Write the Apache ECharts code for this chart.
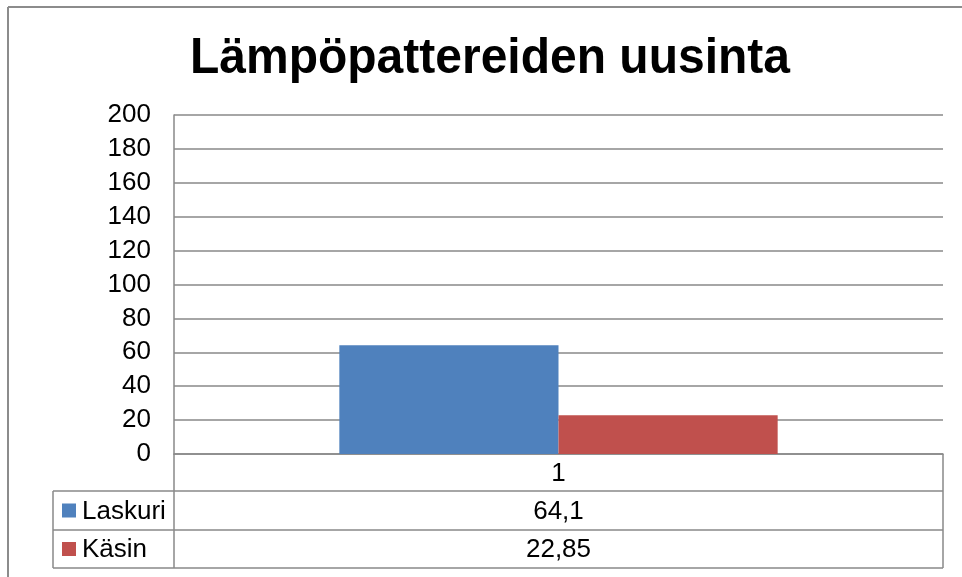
<!DOCTYPE html>
<html>
<head>
<meta charset="utf-8">
<script src="https://cdn.jsdelivr.net/npm/echarts@6/dist/echarts.min.js"></script>
<style>html,body{margin:0;padding:0;background:#fff}#c{width:962px;height:577px}</style>
</head>
<body>
<div id="c"></div>
<script>
const titleText = 'Lämpöpattereiden uusinta';
const categories = ['1'];
const seriesNames = ['Laskuri', 'Käsin'];
const laskuri = [64.1];
const kasin = [22.85];
const yTicks = [0, 20, 40, 60, 80, 100, 120, 140, 160, 180, 200];

const colors = ['#4F81BD', '#C0504D'];
const FONT = '"Liberation Sans", Arial, sans-serif';
const W = 962, H = 577;
const G = {left: 174, right: 19, top: 115, bottom: 123};
const plotL = G.left, plotR = W - G.right, plotB = H - G.bottom;
const tableL = 53;
const rowB = [plotB, 491, 530, 568];
const lineColor = '#898989';

const fmt = v => String(v).replace('.', ',');
const seriesData = [laskuri, kasin];

const graphics = [];
// outer chart border (top & left visible)
graphics.push({type:'line', shape:{x1:8, y1:7, x2:W+5, y2:7}, style:{stroke:'#8c8c8c', lineWidth:2}});
graphics.push({type:'line', shape:{x1:8, y1:7, x2:8, y2:H+5}, style:{stroke:'#8c8c8c', lineWidth:2}});
// title
graphics.push({type:'text', x:490, y:59, scaleY:1.06, style:{text:titleText, font:'bold 48px ' + FONT, fill:'#000', textAlign:'center', textVerticalAlign:'middle'}});

// table lines
graphics.push({type:'line', shape:{x1:plotL, y1:plotB, x2:plotL, y2:rowB[3]}, style:{stroke:lineColor, lineWidth:1.5}});
graphics.push({type:'line', shape:{x1:plotR, y1:plotB, x2:plotR, y2:rowB[3]}, style:{stroke:lineColor, lineWidth:1.5}});
graphics.push({type:'line', shape:{x1:tableL, y1:rowB[1], x2:tableL, y2:rowB[3]}, style:{stroke:lineColor, lineWidth:1.5}});
for (let i = 1; i < rowB.length; i++) {
  graphics.push({type:'line', shape:{x1:tableL, y1:rowB[i], x2:plotR, y2:rowB[i]}, style:{stroke:lineColor, lineWidth:1.5}});
}
const midX = (plotL + plotR) / 2;
const tf = '26px ' + FONT;
// category row
graphics.push({type:'text', x:midX, y:(rowB[0]+rowB[1])/2 + 1, style:{text:categories[0], font:tf, fill:'#000', textAlign:'center', textVerticalAlign:'middle'}});
for (let s = 0; s < seriesNames.length; s++) {
  const cy = (rowB[s+1] + rowB[s+2]) / 2 + 1;
  graphics.push({type:'rect', shape:{x:62, y:cy-8, width:14, height:14}, style:{fill:colors[s]}});
  graphics.push({type:'text', x:82, y:cy, style:{text:seriesNames[s], font:tf, fill:'#000', textAlign:'left', textVerticalAlign:'middle'}});
  graphics.push({type:'text', x:midX, y:cy, style:{text:fmt(seriesData[s][0]), font:tf, fill:'#000', textAlign:'center', textVerticalAlign:'middle'}});
}

const chart = echarts.init(document.getElementById('c'), null, {renderer:'canvas'});
chart.setOption({
  animation: false,
  backgroundColor: '#fff',
  grid: G,
  xAxis: {
    type: 'category', data: categories,
    axisLine: {show:true, lineStyle:{color:lineColor, width:1.5}},
    axisTick: {show:false},
    axisLabel: {show:false},
    splitLine: {show:false}
  },
  yAxis: {
    type: 'value', min: yTicks[0], max: yTicks[yTicks.length-1], interval: yTicks[1]-yTicks[0],
    axisLine: {show:true, lineStyle:{color:lineColor, width:1.5}},
    axisTick: {show:false},
    axisLabel: {color:'#000', fontSize:26, fontFamily:FONT, margin:23},
    splitLine: {show:true, lineStyle:{color:lineColor, width:1.5}}
  },
  series: seriesNames.map((n, i) => ({
    name: n, type: 'bar', data: seriesData[i],
    itemStyle: {color: colors[i]},
    barGap: '0%', barCategoryGap: '43%'
  })),
  graphic: graphics
});
</script>
</body>
</html>
